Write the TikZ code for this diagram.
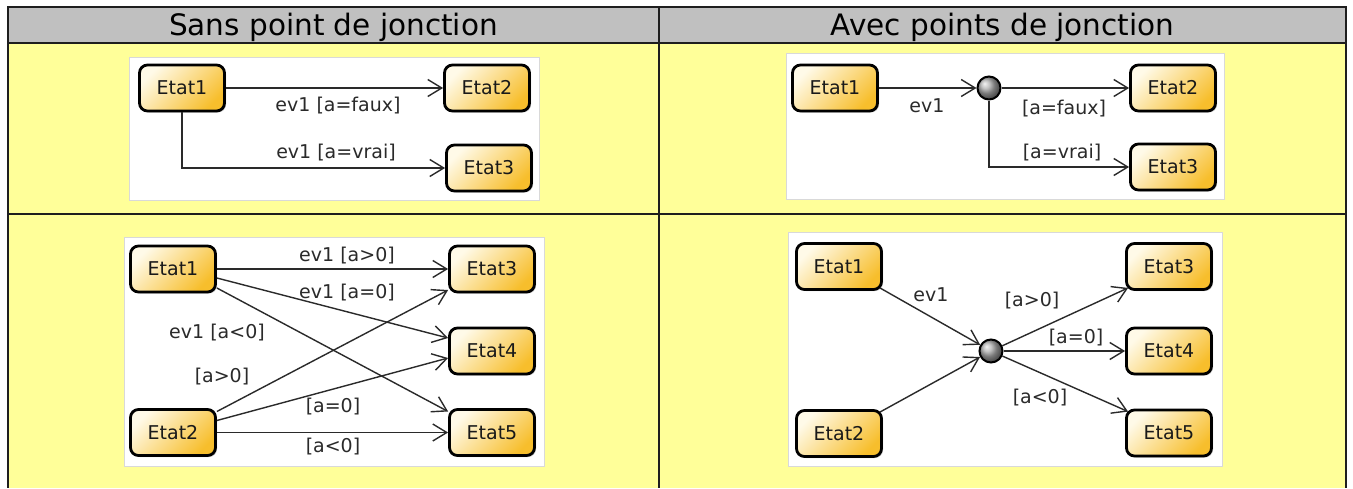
\documentclass[tikz,border=0pt]{standalone}
\usepackage{fontspec}
\setmainfont{DejaVu Sans}
\usetikzlibrary{arrows.meta,shadows}
\definecolor{hdrgray}{HTML}{C0C0C0}
\definecolor{cellyellow}{HTML}{FFFF99}
\definecolor{gridline}{HTML}{1E1E1E}
\definecolor{stlight}{HTML}{FFFAE8}
\definecolor{stdark}{HTML}{F7BE2C}
\definecolor{ink}{HTML}{2A2A2A}
\newcommand{\hdrfont}{\fontsize{29.5}{34}\selectfont}
\newcommand{\dgfont}{\fontsize{19}{22}\selectfont}
\tikzset{
  statebox/.style={rectangle, draw=black, line width=2.8pt, rounded corners=8pt,
    minimum width=85pt, minimum height=46pt, inner sep=0pt,
    top color=stlight, bottom color=stdark, shading angle=45,
    font=\dgfont, text=black!90,
    drop shadow={shadow xshift=1.5pt, shadow yshift=-1.5pt, fill=black, opacity=0.22}},
  junction/.style={circle, draw=black, line width=2pt, ball color=gray!65,
    minimum size=23pt, inner sep=0pt},
  trans/.style={draw=ink, line width=1.4pt,
    -{Straight Barb[length=14pt,width=17pt]}},
  guard/.style={font=\dgfont, text=ink, inner sep=0pt},
  panel/.style={fill=white, draw=gray!30, line width=0.8pt},
  grid/.style={draw=gridline, line width=2pt},
  header/.style={font=\hdrfont, text=black, anchor=base, inner sep=0pt}
}
\begin{document}
\begin{tikzpicture}[x=1pt, y=-1pt]
\useasboundingbox (0,0) rectangle (1353,488);

% table background and header
\fill[cellyellow] (8,43) rectangle (1346,488);
\fill[hdrgray] (8,7) rectangle (1346,43);
\node[header] (h1) at (333.5,35) {Sans point de jonction};
\node[header] (h2) at (1002.5,35) {Avec points de jonction};

% table rules
\draw[grid] (8,7) -- (1346,7);
\draw[grid] (8,43) -- (1346,43);
\draw[grid] (8,213.5) -- (1346,213.5);
\draw[grid] (8,6) -- (8,488);
\draw[grid] (659,6) -- (659,488);
\draw[grid] (1346,6) -- (1346,488);

% white drawing areas
\draw[panel] (129,57) rectangle (539,200);
\draw[panel] (786,53) rectangle (1224,199);
\draw[panel] (124,237) rectangle (544,466);
\draw[panel] (788,232) rectangle (1222,466);

% ---- without junction point, two targets
\node[statebox] (a1) at (182,88) {Etat1};
\node[statebox] (a2) at (487,88) {Etat2};
\node[statebox] (a3) at (489,168) {Etat3};
\draw[trans] (a1) -- (a2);
\draw[trans] (a1.south) |- (a3.west);
\node[guard] (la1) at (338,106) {ev1 [a=faux]};
\node[guard] (la2) at (336,153) {ev1 [a=vrai]};

% ---- with junction point, two targets
\node[statebox] (b1) at (835,88) {Etat1};
\node[junction] (bj) at (989,88) {};
\node[statebox] (b2) at (1173,88) {Etat2};
\node[statebox] (b3) at (1173,167) {Etat3};
\draw[trans] (b1) -- (bj);
\draw[trans] (bj) -- (b2);
\draw[trans] (bj.south) |- (b3.west);
\node[guard] (lb1) at (927,106) {ev1};
\node[guard] (lb2) at (1064,109) {[a=faux]};
\node[guard] (lb3) at (1062,153) {[a=vrai]};

% ---- without junction point, six transitions
\node[statebox] (c1) at (173,269) {Etat1};
\node[statebox] (c2) at (173,432.5) {Etat2};
\node[statebox] (c3) at (492,269) {Etat3};
\node[statebox] (c4) at (492,351) {Etat4};
\node[statebox] (c5) at (492,432.5) {Etat5};
\draw[trans] (c1.east) -- (c3.west);
\draw[trans] ([yshift=-9pt]c1.east) -- ([yshift=13pt]c4.west);
\draw[trans] ([yshift=-19pt]c1.east) -- ([yshift=21pt]c5.west);
\draw[trans] ([yshift=21pt]c2.east) -- ([yshift=-21pt]c3.west);
\draw[trans] ([yshift=12pt]c2.east) -- ([yshift=-7pt]c4.west);
\draw[trans] (c2.east) -- (c5.west);
\node[guard] (lc1) at (347,256) {ev1 [a>0]};
\node[guard] (lc2) at (347,293) {ev1 [a=0]};
\node[guard] (lc3) at (217,333) {ev1 [a<0]};
\node[guard] (lc4) at (222,377) {[a>0]};
\node[guard] (lc5) at (333,407) {[a=0]};
\node[guard] (lc6) at (333,447) {[a<0]};

% ---- with junction point, merged transitions
\node[statebox] (d1) at (839,266.5) {Etat1};
\node[statebox] (d2) at (839,433.5) {Etat2};
\node[statebox] (d3) at (1169,266.5) {Etat3};
\node[statebox] (d4) at (1169,351) {Etat4};
\node[statebox] (d5) at (1169,433) {Etat5};
\node[junction] (dj) at (991,351) {};
\draw[trans] ([shift={(-3pt,3pt)}]d1.south east) -- (dj);
\draw[trans] ([shift={(-3pt,-3pt)}]d2.north east) -- (dj);
\draw[trans] (dj) -- ([shift={(3pt,3pt)}]d3.south west);
\draw[trans] (dj) -- (d4);
\draw[trans] (dj) -- ([shift={(3pt,-3pt)}]d5.north west);
\node[guard] (ld1) at (931,295) {ev1};
\node[guard] (ld2) at (1032,301) {[a>0]};
\node[guard] (ld3) at (1076,338) {[a=0]};
\node[guard] (ld4) at (1040,398) {[a<0]};
\end{tikzpicture}
\end{document}
